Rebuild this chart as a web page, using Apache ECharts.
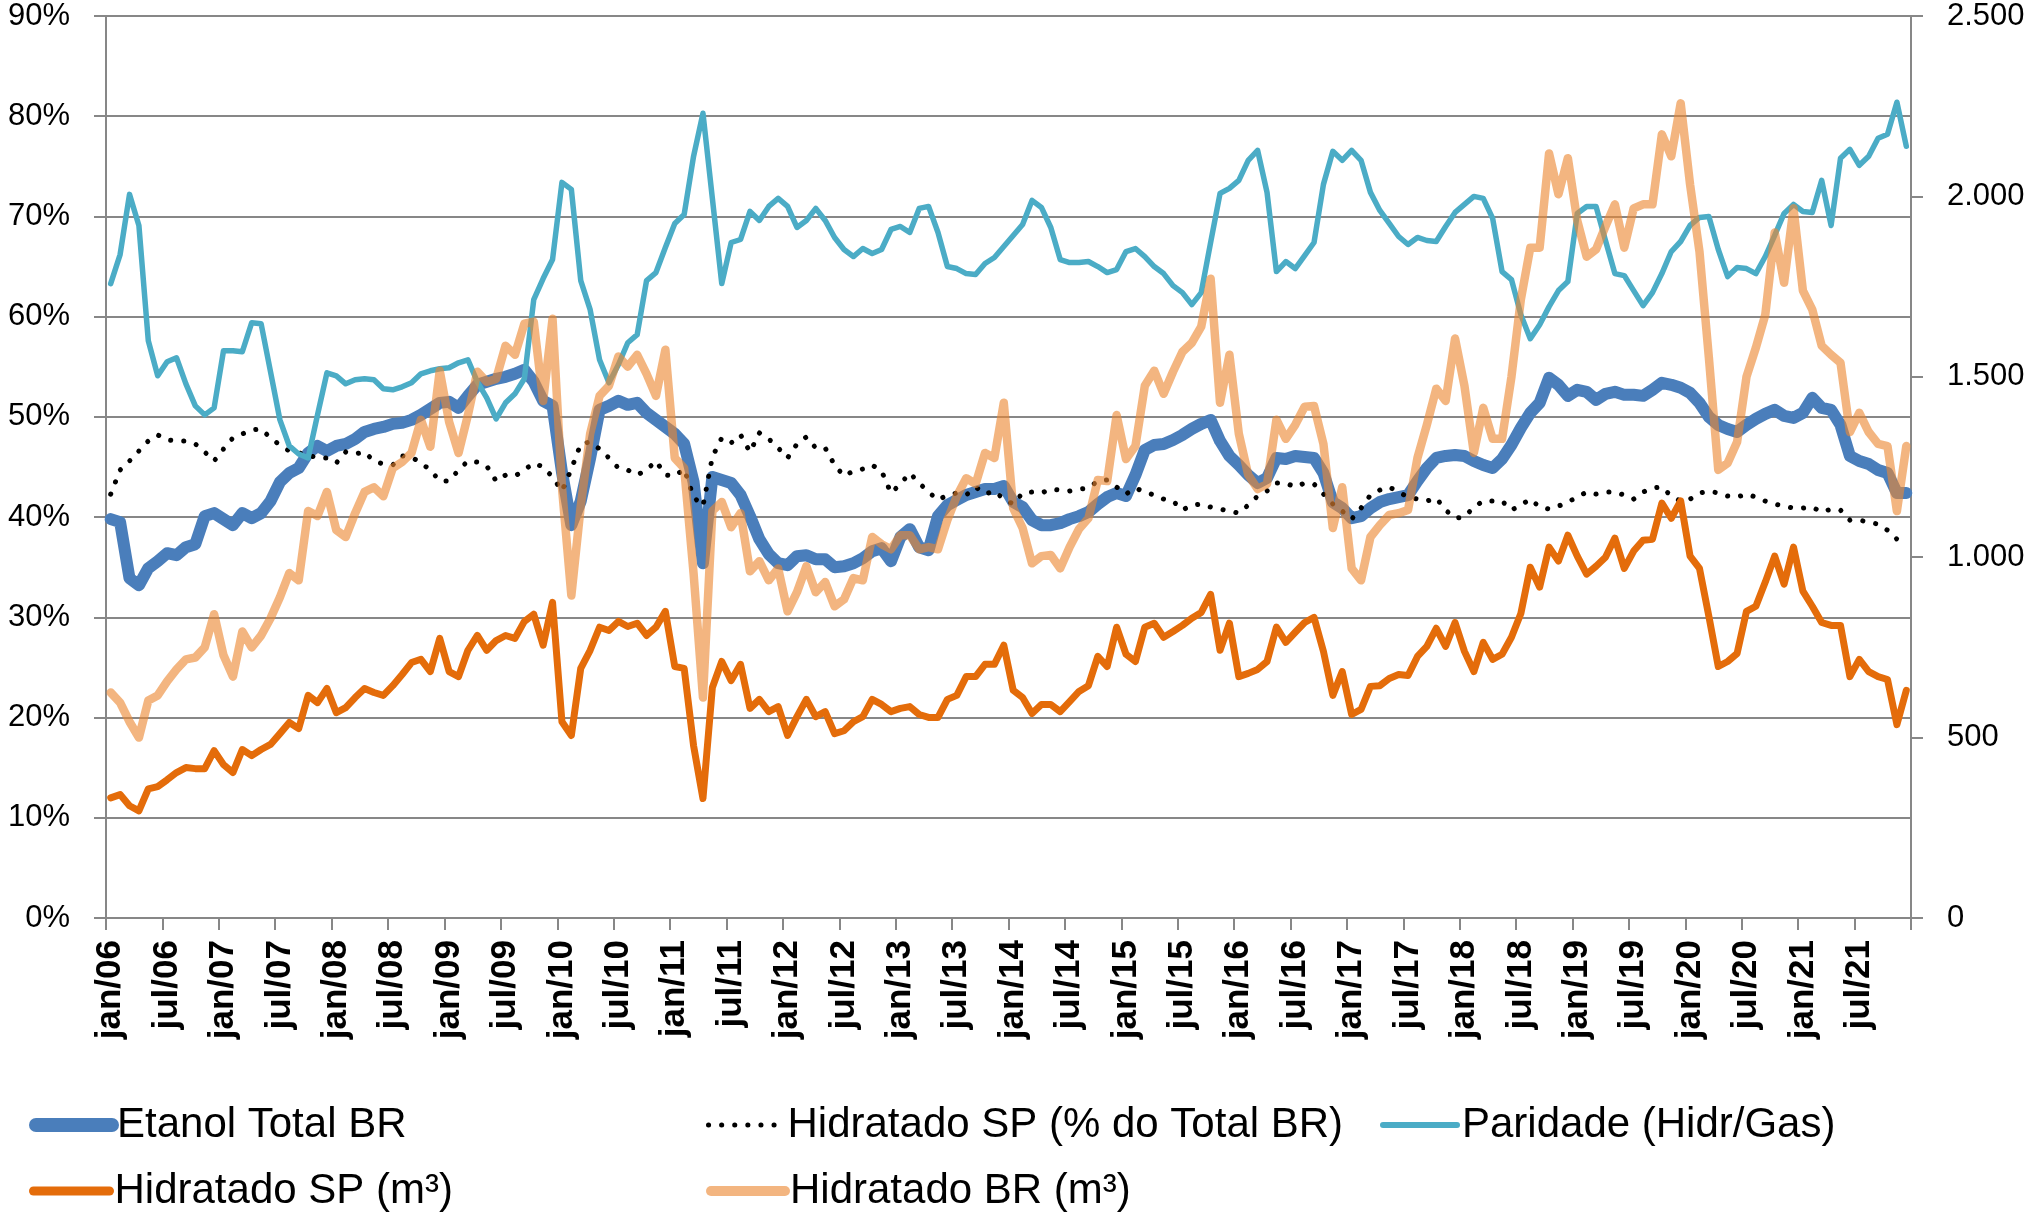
<!DOCTYPE html>
<html>
<head>
<meta charset="utf-8">
<title>Etanol hidratado</title>
<script src="https://cdn.jsdelivr.net/npm/echarts@6/dist/echarts.min.js"></script>
<style>
html, body { margin: 0; padding: 0; background: #fff; }
#chart { width: 2038px; height: 1216px; }
</style>
</head>
<body>
<div id="chart"></div>
<script>
// eixo x: meses jan/06 .. dez/21
var meses = ['jan', 'fev', 'mar', 'abr', 'mai', 'jun', 'jul', 'ago', 'set', 'out', 'nov', 'dez'];
var anos = ['06', '07', '08', '09', '10', '11', '12', '13', '14', '15', '16', '17', '18', '19', '20', '21'];
var categorias = [];
anos.forEach(function (a) {
    meses.forEach(function (m) { categorias.push(m + '/' + a); });
});

// eixo esquerdo (%)
var etanolTotalBR = [
    39.8,39.5,33.9,33.2,34.9,35.6,36.4,36.2,37.0,37.3,40.1,40.4,
    39.8,39.2,40.4,39.9,40.4,41.6,43.5,44.4,44.9,46.4,47.1,46.6,
    47.1,47.3,47.8,48.5,48.8,49.0,49.3,49.4,49.7,50.2,50.8,51.4,
    51.5,50.9,52.1,53.2,53.5,53.8,54.0,54.3,54.7,53.5,51.6,51.1,
    44.5,39.2,41.6,45.9,50.7,51.1,51.6,51.2,51.4,50.4,49.7,49.0,
    48.3,47.3,43.5,35.4,44.0,43.7,43.4,42.2,40.1,37.8,36.3,35.4,
    35.2,36.1,36.2,35.8,35.8,35.0,35.1,35.4,35.9,36.6,36.9,35.6,
    38.0,38.8,37.0,36.7,40.1,41.2,41.7,42.2,42.5,42.8,42.8,43.1,
    41.5,41.0,39.7,39.2,39.2,39.4,39.8,40.1,40.5,41.3,42.0,42.4,
    42.1,44.2,46.7,47.2,47.3,47.7,48.2,48.8,49.3,49.7,47.6,46.1,
    45.2,44.2,43.4,43.9,45.9,45.8,46.1,46.0,45.9,44.4,41.5,40.9,
    39.9,40.1,40.9,41.5,41.8,42.0,42.2,43.6,44.9,45.9,46.1,46.2,
    46.1,45.6,45.2,44.9,45.8,47.2,48.9,50.4,51.4,53.9,53.2,52.1,
    52.7,52.5,51.7,52.3,52.5,52.2,52.2,52.1,52.7,53.4,53.2,52.9,
    52.4,51.4,50.0,49.2,48.8,48.5,49.2,49.8,50.3,50.7,50.1,49.9,
    50.4,51.9,50.9,50.7,49.2,46.1,45.6,45.3,44.7,44.4,42.4,42.4
];
var hidratadoSPpct = [
    42.3,44.7,45.6,46.6,47.6,48.2,47.7,47.6,47.6,47.3,46.5,45.6,
    46.8,47.9,48.3,48.7,48.8,47.9,47.2,46.6,46.4,46.2,45.9,45.9,
    45.4,46.5,46.3,46.5,45.6,45.3,45.2,46.1,46.0,45.4,44.7,43.6,
    43.6,44.7,45.6,45.5,45.1,43.6,44.2,44.1,44.7,45.4,45.0,44.0,
    42.6,44.8,47.3,47.5,46.8,45.9,44.9,44.7,44.2,44.7,45.6,44.2,
    44.1,44.8,42.0,41.1,46.0,47.9,47.4,48.2,46.5,48.4,47.8,46.9,
    45.9,47.3,48.0,46.9,46.9,45.2,44.1,44.6,44.8,45.2,44.6,42.4,
    43.3,44.4,43.4,42.5,41.7,42.2,42.4,42.2,43.0,42.3,42.6,41.8,
    41.3,42.4,42.5,42.4,42.8,42.7,42.6,42.8,42.9,43.6,43.7,43.0,
    42.3,42.9,42.5,42.2,41.8,41.6,40.7,41.2,41.3,41.0,40.8,40.6,
    40.4,41.2,42.1,42.6,43.4,43.4,43.0,43.4,43.3,42.3,41.3,40.6,
    39.8,40.9,42.2,42.7,43.0,42.5,42.0,41.8,41.6,41.9,40.7,39.9,
    40.0,41.0,41.6,41.6,41.6,40.7,41.2,41.8,41.0,40.8,41.1,41.5,
    42.0,42.5,42.3,42.5,42.5,42.2,41.8,42.5,42.9,43.0,42.1,41.6,
    41.8,42.4,42.6,42.4,42.1,42.0,42.3,42.0,41.6,41.3,41.1,40.9,
    40.9,41.0,40.5,40.8,40.7,39.7,39.7,39.5,39.3,38.7,37.8,37.7
];
var paridade = [
    63.3,66.2,72.2,69.1,57.6,54.1,55.5,55.9,53.3,51.1,50.2,50.9,
    56.6,56.6,56.5,59.4,59.3,54.5,49.7,47.1,46.3,45.9,50.2,54.4,
    54.1,53.3,53.7,53.8,53.7,52.8,52.7,53.0,53.4,54.3,54.6,54.8,
    54.9,55.4,55.7,53.5,51.9,49.8,51.4,52.3,53.8,61.7,63.8,65.7,
    73.4,72.7,63.6,60.7,55.7,53.4,55.2,57.4,58.2,63.6,64.4,66.9,
    69.3,70.2,76.0,80.3,71.8,63.3,67.4,67.7,70.5,69.6,71.0,71.8,
    71.0,68.9,69.6,70.8,69.6,67.9,66.7,66.0,66.8,66.3,66.7,68.7,
    69.0,68.4,70.8,71.0,68.4,65.0,64.8,64.3,64.2,65.3,65.9,67.0,
    68.1,69.2,71.6,70.9,68.9,65.7,65.4,65.4,65.5,65.0,64.4,64.7,
    66.5,66.8,66.0,65.0,64.3,63.1,62.4,61.2,62.4,67.4,72.3,72.8,
    73.6,75.6,76.6,72.4,64.5,65.5,64.8,66.1,67.4,73.2,76.5,75.6,
    76.6,75.6,72.4,70.6,69.3,68.0,67.2,67.9,67.6,67.5,69.0,70.4,
    71.2,72.0,71.8,69.8,64.5,63.7,60.2,57.8,59.2,61.0,62.6,63.5,
    70.3,71.0,71.0,67.6,64.3,64.1,62.6,61.1,62.4,64.3,66.5,67.5,
    69.1,69.9,70.0,66.7,64.0,64.9,64.8,64.3,66.0,68.1,70.3,71.2,
    70.5,70.4,73.6,69.1,75.8,76.7,75.1,76.0,77.8,78.2,81.4,77.0
];

// eixo direito (mil m³)
var hidratadoSPm3 = [
    333,342,311,297,358,364,383,403,417,414,414,464,
    425,403,467,450,467,481,511,542,525,617,597,636,
    569,583,611,636,625,617,644,675,708,717,683,775,
    683,669,742,783,742,769,783,775,822,842,756,875,
    544,506,692,742,806,797,822,808,817,783,806,850,
    697,692,478,331,639,711,658,703,581,606,572,586,
    506,558,606,558,572,511,519,544,558,606,592,572,
    581,586,564,556,556,606,617,669,669,703,703,756,
    631,611,567,592,592,572,600,628,644,725,697,806,
    731,711,806,817,778,794,811,831,847,897,742,817,
    669,678,689,711,806,764,792,819,833,739,617,683,
    564,578,642,644,664,675,672,725,753,803,753,819,
    739,683,764,717,731,778,844,972,917,1028,989,1061,
    1003,953,975,1000,1053,969,1017,1047,1050,1150,1108,1156,
    1003,969,836,697,711,733,850,864,931,1003,925,1028,
    906,864,819,811,811,669,717,683,669,661,536,631
];
var hidratadoBRm3 = [
    625,597,544,500,603,617,656,689,717,722,750,842,
    728,669,794,750,783,831,889,956,936,1128,1114,1181,
    1075,1056,1122,1181,1194,1169,1247,1264,1289,1381,1306,1517,
    1375,1289,1394,1514,1486,1494,1586,1561,1647,1653,1433,1661,
    1194,894,1142,1342,1447,1475,1556,1528,1561,1508,1447,1575,
    1275,1247,956,611,1128,1153,1083,1122,961,989,936,969,
    850,903,975,903,931,864,883,942,936,1056,1036,1022,
    1061,1061,1022,1028,1022,1103,1169,1219,1203,1289,1275,1428,
    1136,1081,983,1003,1006,969,1028,1078,1108,1214,1211,1394,
    1272,1308,1475,1517,1453,1514,1569,1594,1639,1772,1428,1561,
    1342,1228,1189,1203,1381,1328,1367,1417,1419,1314,1081,1194,
    969,936,1056,1089,1117,1122,1131,1275,1367,1467,1433,1606,
    1475,1289,1414,1328,1328,1500,1714,1858,1858,2119,2006,2106,
    1933,1833,1853,1917,1978,1858,1967,1978,1978,2172,2111,2258,
    2033,1847,1553,1242,1261,1319,1500,1581,1672,1900,1761,1967,
    1739,1686,1586,1561,1539,1347,1400,1347,1314,1308,1128,1308
];

var FONT = '"Liberation Sans", Arial, sans-serif';
var GRID_COLOR = '#878787';

var myChart = echarts.init(document.getElementById('chart'));

function legendItem(name, left, top, w, lineW) {
    return {
        data: [name],
        left: left,
        top: top,
        padding: 0,
        itemWidth: w,
        itemHeight: 16,
        selectedMode: false,
        itemStyle: { opacity: 0 },
        lineStyle: { width: lineW },
        textStyle: { fontFamily: FONT, fontSize: 42, color: '#000', lineHeight: 50 }
    };
}

function serie(name, data, yIdx, lineStyle) {
    return {
        name: name,
        type: 'line',
        yAxisIndex: yIdx,
        data: data,
        symbol: 'none',
        silent: true,
        lineStyle: Object.assign({ cap: 'round', join: 'round' }, lineStyle),
        itemStyle: { color: lineStyle.color }
    };
}

var option = {
    backgroundColor: '#fff',
    animation: false,
    grid: { left: 106, right: 127, top: 16, bottom: 298, containLabel: false, outerBoundsMode: 'none' },
    legend: [
        legendItem('Etanol Total BR', 29, 1100, 76, 14),
        legendItem('Hidratado SP (% do Total BR)', 706, 1100, 74, 5),
        legendItem('Paridade (Hidr/Gas)', 1380, 1100, 74, 6),
        legendItem('Hidratado SP (m³)', 29, 1166, 76, 9),
        legendItem('Hidratado BR (m³)', 706, 1166, 74, 10)
    ],
    xAxis: {
        type: 'category',
        data: categorias,
        boundaryGap: true,
        axisLine: { show: true, lineStyle: { color: GRID_COLOR, width: 2 } },
        axisTick: { show: true, interval: 5, length: 12, lineStyle: { color: GRID_COLOR, width: 2 } },
        axisLabel: {
            interval: 5, rotate: 90, margin: 22,
            fontFamily: FONT, fontSize: 35, fontWeight: 'bold', color: '#000'
        },
        splitLine: { show: false }
    },
    yAxis: [
        {
            type: 'value', min: 0, max: 90, interval: 10,
            axisLine: { show: true, lineStyle: { color: GRID_COLOR, width: 2 } },
            axisTick: { show: true, length: 12, lineStyle: { color: GRID_COLOR, width: 2 } },
            axisLabel: { formatter: '{value}%', margin: 36, fontFamily: FONT, fontSize: 31, color: '#000' },
            splitLine: { show: true, lineStyle: { color: GRID_COLOR, width: 2 } }
        },
        {
            type: 'value', min: 0, max: 2500, interval: 500, position: 'right',
            axisLine: { show: true, lineStyle: { color: GRID_COLOR, width: 2 } },
            axisTick: { show: true, length: 12, lineStyle: { color: GRID_COLOR, width: 2 } },
            axisLabel: {
                margin: 36, fontFamily: FONT, fontSize: 31, color: '#000',
                formatter: function (v) { return String(v).replace(/\B(?=(\d{3})+(?!\d))/g, '.'); }
            },
            splitLine: { show: false }
        }
    ],
    series: [
        serie('Etanol Total BR', etanolTotalBR, 0, { color: '#4a7ebb', width: 12 }),
        serie('Hidratado SP (% do Total BR)', hidratadoSPpct, 0, { color: '#000', width: 5, type: [0.1, 13] }),
        serie('Paridade (Hidr/Gas)', paridade, 0, { color: '#4bacc6', width: 5.5 }),
        serie('Hidratado SP (m³)', hidratadoSPm3, 1, { color: '#e46c0a', width: 7 }),
        serie('Hidratado BR (m³)', hidratadoBRm3, 1, { color: 'rgba(235,135,50,0.62)', width: 8.5 })
    ]
};

myChart.setOption(option);
</script>
</body>
</html>
